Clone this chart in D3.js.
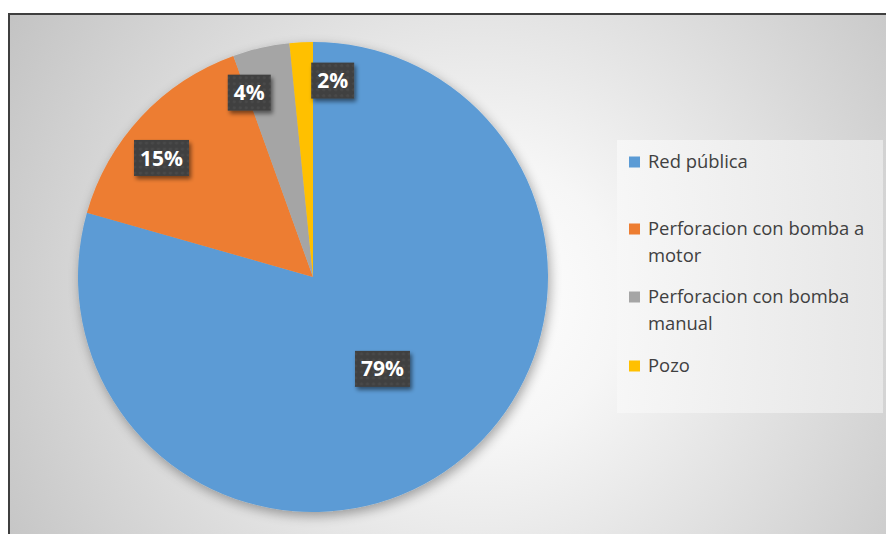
<!DOCTYPE html>
<html><head><meta charset="utf-8">
<script src="https://cdn.jsdelivr.net/npm/d3@7/dist/d3.min.js"></script>
<style>body{margin:0;background:#fff}svg{display:block}</style>
</head><body>
<svg id="chart" width="886" height="534"></svg>
<script>
const categories = ["Red pública", "Perforacion con bomba a motor", "Perforacion con bomba manual", "Pozo"];
const legendLines = [["Red pública"], ["Perforacion con bomba a", "motor"], ["Perforacion con bomba", "manual"], ["Pozo"]];
const values = [79.4, 15.1, 3.9, 1.6];
const labels = ["79%", "15%", "4%", "2%"];
const colors = ["#5b9bd5", "#ed7d31", "#a5a5a5", "#ffc000"];

// layout
const W = 886, H = 534;
const cx = 313, cy = 277, R = 235;
const labelRadius = [0.49, 0.82, 0.83, 0.84];
const labelAngleShift = [0, -0.085, -0.11, 0.15];

const svg = d3.select("#chart");
const defs = svg.append("defs");
const bg = defs.append("radialGradient").attr("id","bg").attr("gradientUnits","userSpaceOnUse")
  .attr("cx",480).attr("cy",300).attr("r",560);
bg.append("stop").attr("offset","0").attr("stop-color","#ffffff");
bg.append("stop").attr("offset","0.25").attr("stop-color","#f6f6f6");
bg.append("stop").attr("offset","1").attr("stop-color","#c2c2c2");
const lg = defs.append("linearGradient").attr("id","lg").attr("x1",0).attr("x2",1).attr("y1",0).attr("y2",0);
lg.append("stop").attr("offset",0).attr("stop-color","#f7f7f7");
lg.append("stop").attr("offset",1).attr("stop-color","#e8e8e8");
const sh = defs.append("filter").attr("id","sh").attr("x","-20%").attr("y","-20%").attr("width","140%").attr("height","140%");
sh.append("feGaussianBlur").attr("in","SourceAlpha").attr("stdDeviation",6);
sh.append("feOffset").attr("dx",2).attr("dy",4).attr("result","b");
sh.append("feComponentTransfer").append("feFuncA").attr("type","linear").attr("slope",0.35);
const m = sh.append("feMerge"); m.append("feMergeNode"); m.append("feMergeNode").attr("in","SourceGraphic");
const sh2 = defs.append("filter").attr("id","sh2").attr("x","-30%").attr("y","-30%").attr("width","160%").attr("height","160%");
sh2.append("feGaussianBlur").attr("in","SourceAlpha").attr("stdDeviation",2);
sh2.append("feOffset").attr("dx",2).attr("dy",3);
sh2.append("feComponentTransfer").append("feFuncA").attr("type","linear").attr("slope",0.5);
const m2 = sh2.append("feMerge"); m2.append("feMergeNode"); m2.append("feMergeNode").attr("in","SourceGraphic");
const pat = defs.append("pattern").attr("id","dots").attr("patternUnits","userSpaceOnUse").attr("width",6).attr("height",6);
pat.append("rect").attr("width",6).attr("height",6).attr("fill","#404040");
pat.append("circle").attr("cx",3).attr("cy",3).attr("r",1.6).attr("fill","#4a4a4a");

svg.append("rect").attr("x",9).attr("y",14).attr("width",W).attr("height",H).attr("fill","url(#bg)");
svg.append("path").attr("d",`M9,${H} V14 H${W}`).attr("fill","none").attr("stroke","#3f3f3f").attr("stroke-width",2);

const pie = d3.pie().sort(null).value(d=>d)(values);
const arc = d3.arc().innerRadius(0).outerRadius(R);
const g = svg.append("g").attr("transform",`translate(${cx},${cy})`);
g.append("g").attr("filter","url(#sh)").selectAll("path").data(pie).join("path")
  .attr("d",arc).attr("fill",(d,i)=>colors[i]);

const lab = g.selectAll("g.lab").data(pie).join("g").attr("class","lab")
  .attr("transform",(d,i)=>{
    const a = (d.startAngle+d.endAngle)/2 + labelAngleShift[i];
    const r = R*labelRadius[i];
    return `translate(${r*Math.sin(a)},${-r*Math.cos(a)})`;
  });
lab.each(function(d,i){
  const s = d3.select(this);
  const t = s.append("text").text(labels[i]).attr("text-anchor","middle").attr("dy","0.36em")
    .attr("font-family","'Open Sans', Lato, sans-serif").attr("font-weight","bold").attr("font-size",21).attr("fill","#fff");
  const bb = t.node().getBBox();
  s.insert("rect","text").attr("x",bb.x-6).attr("y",-18).attr("width",bb.width+12).attr("height",36)
    .attr("fill","url(#dots)").attr("filter","url(#sh2)");
});

svg.append("rect").attr("x",617).attr("y",140).attr("width",266).attr("height",273).attr("fill","url(#lg)").attr("opacity",0.9);
const itemY = [162, 229, 297, 366];
const leg = svg.append("g");
categories.forEach((c,i)=>{
  leg.append("rect").attr("x",629).attr("y",itemY[i]-5.5).attr("width",11).attr("height",11).attr("fill",colors[i]);
  const t = leg.append("text").attr("x",648).attr("y",itemY[i])
    .attr("font-family","'Open Sans', Lato, sans-serif").attr("font-size",18.4).attr("fill","#404040");
  legendLines[i].forEach((l,j)=>t.append("tspan").attr("x",648).attr("dy", j===0?"0.35em":"27").text(l));
});
</script>
</body></html>
